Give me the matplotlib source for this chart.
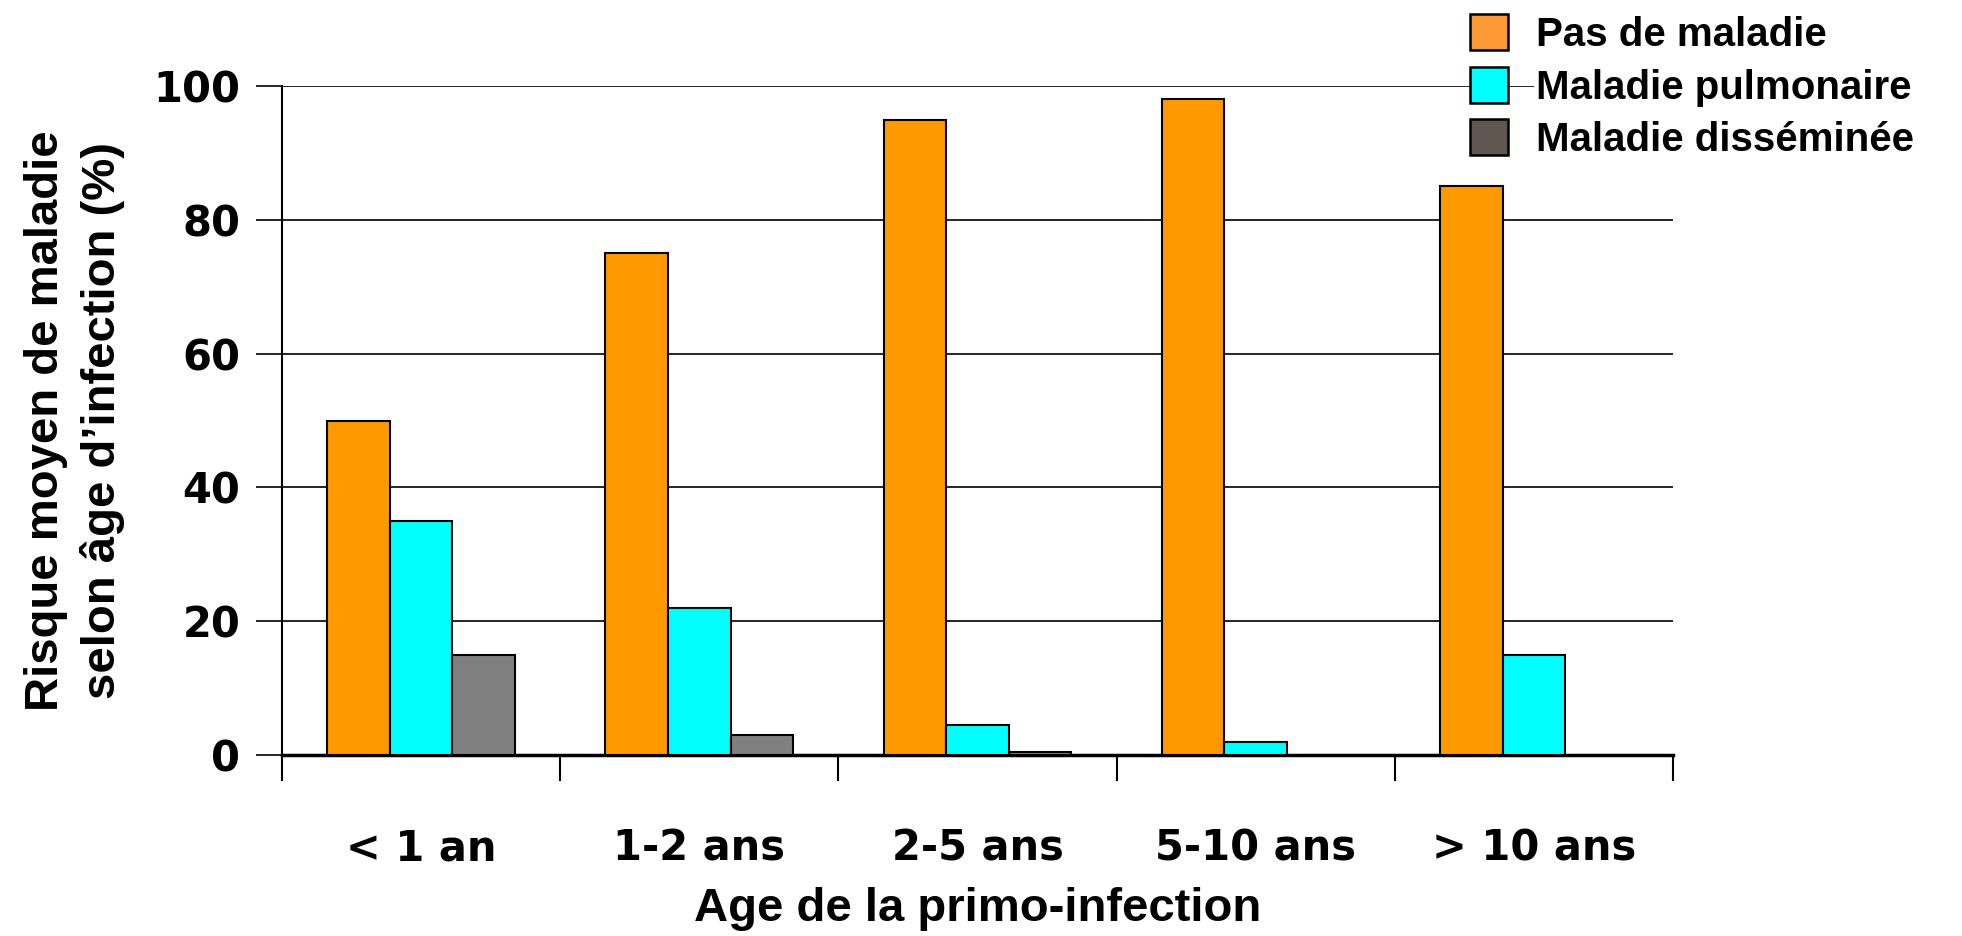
import numpy as np
import matplotlib
matplotlib.use("Agg")
import matplotlib.pyplot as plt
from matplotlib.patches import Patch

# Risque de maladie selon l'age de la primo-infection
categories = ["< 1 an", "1-2 ans", "2-5 ans", "5-10 ans", "> 10 ans"]
pas_de_maladie = [50, 75, 95, 98, 85]
maladie_pulmonaire = [35, 22, 4.5, 2, 15]
maladie_disseminee = [15, 3, 0.5, 0, 0]
series_names = ["Pas de maladie", "Maladie pulmonaire", "Maladie disséminée"]
yticks = [0, 20, 40, 60, 80, 100]

bar_colors = ["#FF9900", "#00FFFF", "#808080"]
legend_colors = ["#FF9933", "#00FFFF", "#5F5850"]

fig = plt.figure(figsize=(19.62, 9.36), dpi=100)
ax = fig.add_axes([0.1437, 0.1934, 0.7090, 0.7146])

x = np.arange(len(categories))
w = 0.225
for i, vals in enumerate([pas_de_maladie, maladie_pulmonaire, maladie_disseminee]):
    v = np.array(vals, dtype=float)
    keep = v > 0
    ax.bar(x[keep] + (i - 1) * w, v[keep], width=w, color=bar_colors[i],
           edgecolor="black", linewidth=1.5, zorder=3)

ax.set_xlim(-0.5, len(categories) - 0.5)
ax.set_ylim(0, 100)

# grid lines
ax.set_yticks(yticks)
ax.yaxis.grid(True, color="black", linewidth=1.2, zorder=0)
ax.set_yticklabels([str(t) for t in yticks], fontsize=30, fontweight="bold",
                   family="DejaVu Sans")
ax.tick_params(axis="y", direction="out", length=19, width=1.2, pad=11)

# category boundaries as major ticks, labels at centres
ax.set_xticks(np.arange(len(categories) + 1) - 0.5)
ax.set_xticklabels([])
ax.set_xticks(x, minor=True)
ax.set_xticklabels(categories, minor=True, fontsize=30, fontweight="bold",
                   family="DejaVu Sans")
ax.tick_params(axis="x", which="major", direction="out", length=19, width=1.5)
ax.tick_params(axis="x", which="minor", length=0, pad=52)

for s in ["top", "right"]:
    ax.spines[s].set_visible(False)
ax.spines["left"].set_linewidth(1.5)
ax.spines["bottom"].set_linewidth(2.5)

ax.set_xlabel("Age de la primo-infection", fontsize=34, fontweight="bold",
              family="Liberation Sans", labelpad=13)
ax.set_ylabel("Risque moyen de maladie\nselon âge d\u2019infection (%)",
              fontsize=34, fontweight="bold", family="Liberation Sans",
              labelpad=20, linespacing=1.35)

handles = [Patch(facecolor=c, edgecolor="black", linewidth=1.8) for c in legend_colors]
leg = fig.legend(handles, series_names, loc="upper left",
                 bbox_to_anchor=(1470 / 1962, 1 - 14 / 936),
                 frameon=False, borderpad=0, borderaxespad=0,
                 prop={"family": "Liberation Sans", "weight": "bold", "size": 29},
                 handlelength=0.95, handleheight=1.0, handletextpad=0.7,
                 labelspacing=0.32)
for t in leg.get_texts():
    t.set_bbox(dict(facecolor="white", edgecolor="none", pad=2))

fig.savefig("out.png", dpi=100)
